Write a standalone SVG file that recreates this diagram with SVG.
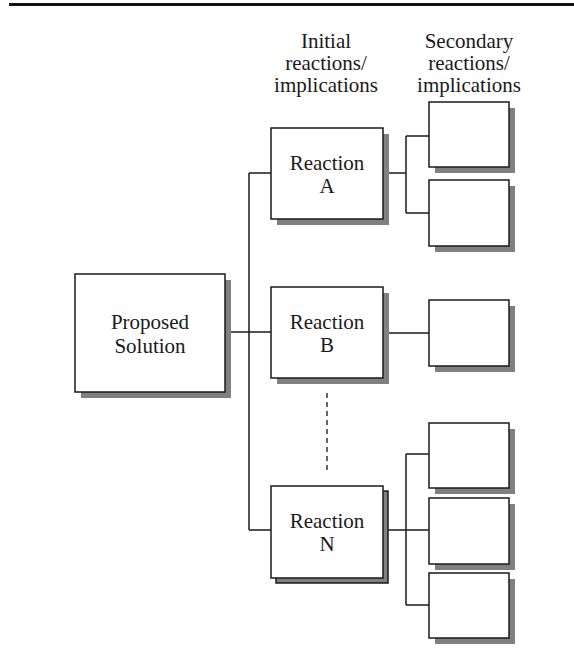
<svg xmlns="http://www.w3.org/2000/svg" width="574" height="659" viewBox="0 0 574 659">
  <style>
    .box { fill: #ffffff; stroke: #1a1a1a; stroke-width: 1.5; }
    .shadow { fill: #808080; }
    .stack { fill: #808080; stroke: #1a1a1a; stroke-width: 1.5; }
    .line { stroke: #1a1a1a; stroke-width: 1.5; fill: none; }
    .dash { stroke: #333333; stroke-width: 1.5; stroke-dasharray: 5 4; fill: none; }
    .label { font-family: "Liberation Serif", "DejaVu Serif", serif; font-size: 21px; fill: #1a1a1a; text-anchor: middle; }
  </style>

  <!-- top rule -->
  <rect x="9" y="3" width="565" height="3" fill="#111111"/>

  <!-- column headings -->
  <g id="heading-initial">
    <text class="label" x="326" y="48">Initial</text>
    <text class="label" x="326" y="70">reactions/</text>
    <text class="label" x="326" y="92">implications</text>
  </g>
  <g id="heading-secondary">
    <text class="label" x="469" y="48">Secondary</text>
    <text class="label" x="469" y="70">reactions/</text>
    <text class="label" x="469" y="92">implications</text>
  </g>

  <!-- connectors -->
  <g id="connectors">
    <path class="line" d="M225 332 H271"/>
    <path class="line" d="M249 173 V530"/>
    <path class="line" d="M249 173 H271"/>
    <path class="line" d="M249 530 H271"/>
    <path class="dash" d="M327 393 V472"/>
    <!-- Reaction A fan-out -->
    <path class="line" d="M383 173 H406"/>
    <path class="line" d="M406 136 V213"/>
    <path class="line" d="M406 136 H429"/>
    <path class="line" d="M406 213 H429"/>
    <!-- Reaction B -->
    <path class="line" d="M383 333 H429"/>
    <!-- Reaction N fan-out -->
    <path class="line" d="M383 530 H429"/>
    <path class="line" d="M406 454 V605"/>
    <path class="line" d="M406 454 H429"/>
    <path class="line" d="M406 605 H429"/>
  </g>

  <!-- proposed solution -->
  <g id="proposed-solution">
    <rect class="shadow" x="81" y="280" width="150" height="118"/>
    <rect class="box" x="75" y="274" width="150" height="118"/>
    <text class="label" x="150" y="329">Proposed</text>
    <text class="label" x="150" y="353">Solution</text>
  </g>

  <!-- initial reactions -->
  <g id="reaction-a">
    <rect class="shadow" x="277" y="134" width="112" height="91"/>
    <rect class="box" x="271" y="128" width="112" height="91"/>
    <text class="label" x="327" y="170">Reaction</text>
    <text class="label" x="327" y="193">A</text>
  </g>
  <g id="reaction-b">
    <rect class="shadow" x="277" y="293" width="112" height="91"/>
    <rect class="box" x="271" y="287" width="112" height="91"/>
    <text class="label" x="327" y="329">Reaction</text>
    <text class="label" x="327" y="352">B</text>
  </g>
  <g id="reaction-n">
    <rect class="stack" x="276" y="491" width="112" height="92"/>
    <rect class="box" x="271" y="486" width="112" height="92"/>
    <text class="label" x="327" y="528">Reaction</text>
    <text class="label" x="327" y="551">N</text>
  </g>

  <!-- secondary reactions -->
  <g id="secondary-a1">
    <rect class="shadow" x="435" y="108" width="80" height="65"/>
    <rect class="box" x="429" y="102" width="80" height="65"/>
  </g>
  <g id="secondary-a2">
    <rect class="shadow" x="435" y="186" width="80" height="66"/>
    <rect class="box" x="429" y="180" width="80" height="66"/>
  </g>
  <g id="secondary-b1">
    <rect class="shadow" x="435" y="306" width="80" height="66"/>
    <rect class="box" x="429" y="300" width="80" height="66"/>
  </g>
  <g id="secondary-n1">
    <rect class="shadow" x="435" y="429" width="80" height="65"/>
    <rect class="box" x="429" y="423" width="80" height="65"/>
  </g>
  <g id="secondary-n2">
    <rect class="shadow" x="435" y="504" width="80" height="66"/>
    <rect class="box" x="429" y="498" width="80" height="66"/>
  </g>
  <g id="secondary-n3">
    <rect class="shadow" x="435" y="579" width="80" height="65"/>
    <rect class="box" x="429" y="573" width="80" height="65"/>
  </g>
</svg>
